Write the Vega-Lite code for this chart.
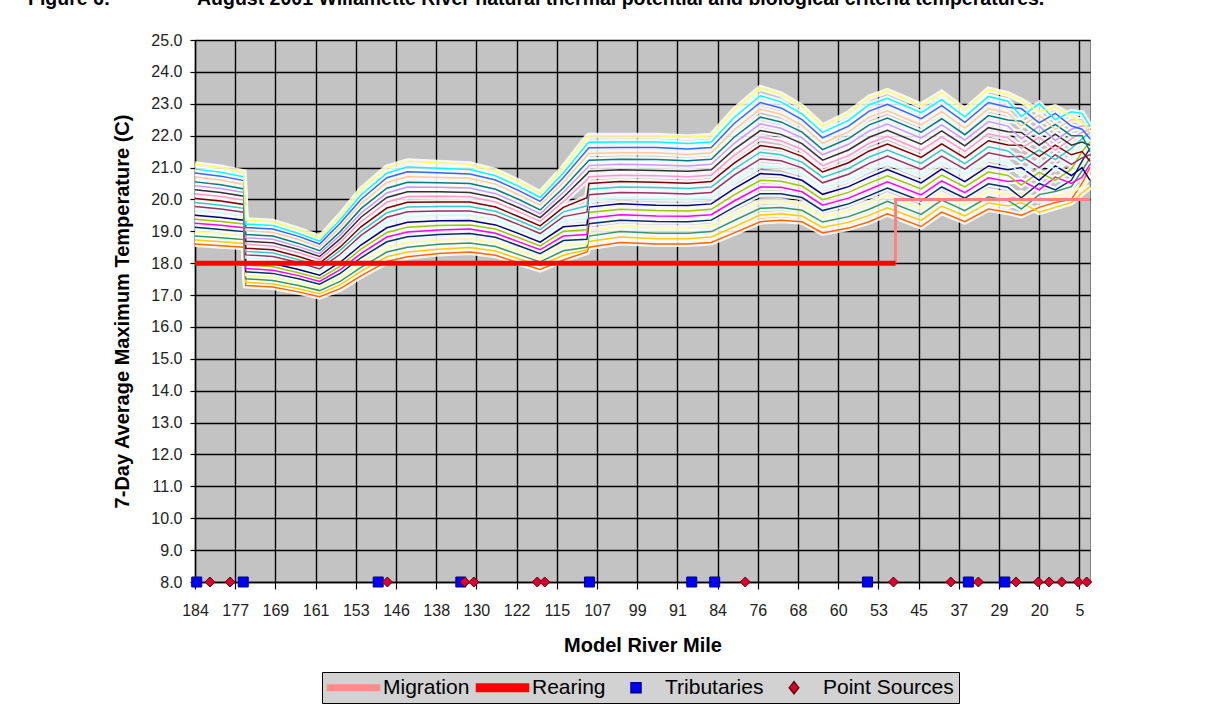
{
  "$schema": "https://vega.github.io/schema/vega-lite/v6.json",
  "width": 895,
  "height": 542,
  "autosize": {"type": "none"},
  "padding": {"left": 195, "top": 40, "right": 116, "bottom": 129},
  "background": "white",
  "title": {
    "text": "Figure 6:\u00a0\u00a0\u00a0\u00a0\u00a0\u00a0\u00a0\u00a0\u00a0\u00a0\u00a0\u00a0\u00a0\u00a0\u00a0\u00a0August 2001 Willamette River natural thermal potential and biological criteria temperatures.",
    "anchor": "start",
    "frame": "group",
    "orient": "top",
    "offset": 8,
    "baseline": "alphabetic",
    "dx": -167,
    "font": "Liberation Sans",
    "fontSize": 19.5,
    "fontWeight": "bold",
    "color": "#000000"
  },
  "config": {
    "view": {"fill": "#c3c3c3", "stroke": "#808080", "strokeWidth": 1},
    "font": "Liberation Sans",
    "axis": {
      "labelFont": "Liberation Sans",
      "labelFontSize": 16,
      "labelColor": "#222222",
      "titleFont": "Liberation Sans",
      "titleFontSize": 20,
      "titleFontWeight": "bold",
      "titleColor": "#000000",
      "gridColor": "#000000",
      "gridWidth": 1.4,
      "gridOpacity": 1,
      "domainColor": "#000000",
      "domainWidth": 1.4,
      "tickColor": "#000000",
      "tickWidth": 1.2,
      "labelFlush": false,
      "labelOverlap": false
    },
    "legend": {
      "labelFont": "Liberation Sans",
      "labelFontSize": 21,
      "labelColor": "#000000",
      "fillColor": "#d2d2d2",
      "strokeColor": "#000000",
      "padding": 5,
      "labelOffset": 35,
      "columnPadding": 3,
      "symbolSize": 100
    }
  },
  "datasets": {
    "days": [
      {"m":184,"d01":18.6,"d02":18.73,"d03":18.85,"d04":18.98,"d05":19.13,"d06":19.25,"d07":19.38,"d08":19.5,"d09":19.65,"d10":19.78,"d11":19.9,"d12":20.03,"d13":20.18,"d14":20.3,"d15":20.43,"d16":20.55,"d17":20.7,"d18":20.83,"d19":20.95,"d20":21.1},
      {"m":179.5,"d01":18.55,"d02":18.67,"d03":18.8,"d04":18.92,"d05":19.06,"d06":19.19,"d07":19.31,"d08":19.43,"d09":19.58,"d10":19.7,"d11":19.82,"d12":19.95,"d13":20.09,"d14":20.22,"d15":20.34,"d16":20.46,"d17":20.61,"d18":20.73,"d19":20.85,"d20":21.0},
      {"m":175.3,"d01":18.5,"d02":18.62,"d03":18.74,"d04":18.85,"d05":18.99,"d06":19.11,"d07":19.23,"d08":19.35,"d09":19.49,"d10":19.6,"d11":19.72,"d12":19.84,"d13":19.98,"d14":20.1,"d15":20.22,"d16":20.33,"d17":20.47,"d18":20.59,"d19":20.71,"d20":20.85},
      {"m":174.9,"d01":17.3,"d02":17.4,"d03":17.51,"d04":17.61,"d05":17.73,"d06":17.83,"d07":17.94,"d08":18.04,"d09":18.16,"d10":18.26,"d11":18.37,"d12":18.47,"d13":18.59,"d14":18.69,"d15":18.8,"d16":18.9,"d17":19.02,"d18":19.12,"d19":19.23,"d20":19.35},
      {"m":169.5,"d01":17.25,"d02":17.35,"d03":17.46,"d04":17.56,"d05":17.68,"d06":17.78,"d07":17.89,"d08":17.99,"d09":18.11,"d10":18.21,"d11":18.32,"d12":18.42,"d13":18.54,"d14":18.64,"d15":18.75,"d16":18.85,"d17":18.97,"d18":19.07,"d19":19.18,"d20":19.3},
      {"m":164.4,"d01":17.1,"d02":17.2,"d03":17.3,"d04":17.39,"d05":17.51,"d06":17.61,"d07":17.7,"d08":17.8,"d09":17.92,"d10":18.02,"d11":18.11,"d12":18.21,"d13":18.33,"d14":18.43,"d15":18.52,"d16":18.62,"d17":18.74,"d18":18.84,"d19":18.93,"d20":19.05},
      {"m":160.2,"d01":16.95,"d02":17.04,"d03":17.14,"d04":17.23,"d05":17.34,"d06":17.43,"d07":17.52,"d08":17.62,"d09":17.73,"d10":17.82,"d11":17.91,"d12":18.0,"d13":18.12,"d14":18.21,"d15":18.3,"d16":18.39,"d17":18.5,"d18":18.6,"d19":18.69,"d20":18.8},
      {"m":156.1,"d01":17.2,"d02":17.32,"d03":17.43,"d04":17.55,"d05":17.68,"d06":17.8,"d07":17.91,"d08":18.03,"d09":18.17,"d10":18.28,"d11":18.4,"d12":18.51,"d13":18.65,"d14":18.76,"d15":18.88,"d16":18.99,"d17":19.13,"d18":19.25,"d19":19.36,"d20":19.5},
      {"m":152.1,"d01":17.6,"d02":17.74,"d03":17.87,"d04":18.01,"d05":18.17,"d06":18.3,"d07":18.44,"d08":18.57,"d09":18.73,"d10":18.87,"d11":19.0,"d12":19.14,"d13":19.3,"d14":19.44,"d15":19.57,"d16":19.71,"d17":19.87,"d18":20.0,"d19":20.14,"d20":20.3},
      {"m":147.6,"d01":18.05,"d02":18.2,"d03":18.35,"d04":18.49,"d05":18.67,"d06":18.82,"d07":18.96,"d08":19.11,"d09":19.29,"d10":19.44,"d11":19.58,"d12":19.73,"d13":19.91,"d14":20.06,"d15":20.2,"d16":20.35,"d17":20.53,"d18":20.68,"d19":20.82,"d20":21.0},
      {"m":143.7,"d01":18.2,"d02":18.35,"d03":18.5,"d04":18.65,"d05":18.83,"d06":18.98,"d07":19.13,"d08":19.28,"d09":19.46,"d10":19.61,"d11":19.76,"d12":19.91,"d13":20.09,"d14":20.24,"d15":20.39,"d16":20.54,"d17":20.72,"d18":20.87,"d19":21.02,"d20":21.2},
      {"m":137.5,"d01":18.3,"d02":18.44,"d03":18.59,"d04":18.73,"d05":18.9,"d06":19.04,"d07":19.18,"d08":19.33,"d09":19.5,"d10":19.64,"d11":19.78,"d12":19.92,"d13":20.1,"d14":20.24,"d15":20.38,"d16":20.52,"d17":20.69,"d18":20.84,"d19":20.98,"d20":21.15},
      {"m":131.3,"d01":18.35,"d02":18.49,"d03":18.63,"d04":18.76,"d05":18.93,"d06":19.07,"d07":19.2,"d08":19.34,"d09":19.51,"d10":19.64,"d11":19.78,"d12":19.92,"d13":20.08,"d14":20.22,"d15":20.36,"d16":20.5,"d17":20.66,"d18":20.8,"d19":20.94,"d20":21.1},
      {"m":126.2,"d01":18.25,"d02":18.38,"d03":18.52,"d04":18.65,"d05":18.81,"d06":18.94,"d07":19.07,"d08":19.2,"d09":19.36,"d10":19.5,"d11":19.63,"d12":19.76,"d13":19.92,"d14":20.05,"d15":20.18,"d16":20.32,"d17":20.48,"d18":20.61,"d19":20.74,"d20":20.9},
      {"m":121.5,"d01":18.0,"d02":18.13,"d03":18.26,"d04":18.38,"d05":18.54,"d06":18.66,"d07":18.79,"d08":18.92,"d09":19.07,"d10":19.2,"d11":19.33,"d12":19.45,"d13":19.61,"d14":19.73,"d15":19.86,"d16":19.99,"d17":20.14,"d18":20.27,"d19":20.4,"d20":20.55},
      {"m":117.9,"d01":17.8,"d02":17.92,"d03":18.04,"d04":18.16,"d05":18.3,"d06":18.42,"d07":18.54,"d08":18.66,"d09":18.81,"d10":18.93,"d11":19.05,"d12":19.17,"d13":19.31,"d14":19.43,"d15":19.55,"d16":19.67,"d17":19.82,"d18":19.94,"d19":20.06,"d20":20.2},
      {"m":113.7,"d01":18.1,"d02":18.25,"d03":18.39,"d04":18.54,"d05":18.71,"d06":18.85,"d07":19.0,"d08":19.14,"d09":19.32,"d10":19.46,"d11":19.61,"d12":19.75,"d13":19.93,"d14":20.07,"d15":20.22,"d16":20.36,"d17":20.54,"d18":20.68,"d19":20.83,"d20":21.0},
      {"m":109.0,"d01":18.35,"d02":18.42,"d03":18.5,"d04":18.6,"d05":18.75,"d06":18.9,"d07":19.05,"d08":19.2,"d09":19.4,"d10":19.6,"d11":19.8,"d12":20.05,"d13":20.62,"d14":20.8,"d15":20.98,"d16":21.16,"d17":21.37,"d18":21.55,"d19":21.73,"d20":21.95},
      {"m":108.6,"d01":18.5,"d02":18.68,"d03":18.85,"d04":19.03,"d05":19.24,"d06":19.41,"d07":19.59,"d08":19.76,"d09":19.97,"d10":20.15,"d11":20.32,"d12":20.5,"d13":20.71,"d14":20.88,"d15":21.06,"d16":21.23,"d17":21.44,"d18":21.62,"d19":21.79,"d20":22.0},
      {"m":102.4,"d01":18.65,"d02":18.82,"d03":18.99,"d04":19.15,"d05":19.35,"d06":19.52,"d07":19.69,"d08":19.86,"d09":20.06,"d10":20.22,"d11":20.39,"d12":20.56,"d13":20.76,"d14":20.93,"d15":21.1,"d16":21.26,"d17":21.46,"d18":21.63,"d19":21.8,"d20":22.0},
      {"m":95.2,"d01":18.6,"d02":18.77,"d03":18.94,"d04":19.11,"d05":19.31,"d06":19.48,"d07":19.65,"d08":19.82,"d09":20.03,"d10":20.2,"d11":20.37,"d12":20.54,"d13":20.74,"d14":20.91,"d15":21.08,"d16":21.25,"d17":21.46,"d18":21.63,"d19":21.8,"d20":22.0},
      {"m":89.2,"d01":18.6,"d02":18.77,"d03":18.94,"d04":19.1,"d05":19.3,"d06":19.47,"d07":19.64,"d08":19.81,"d09":20.01,"d10":20.17,"d11":20.34,"d12":20.51,"d13":20.71,"d14":20.88,"d15":21.05,"d16":21.21,"d17":21.41,"d18":21.58,"d19":21.75,"d20":21.95},
      {"m":85.1,"d01":18.65,"d02":18.82,"d03":18.99,"d04":19.15,"d05":19.35,"d06":19.52,"d07":19.69,"d08":19.86,"d09":20.06,"d10":20.22,"d11":20.39,"d12":20.56,"d13":20.76,"d14":20.93,"d15":21.1,"d16":21.26,"d17":21.46,"d18":21.63,"d19":21.8,"d20":22.0},
      {"m":80.7,"d01":18.95,"d02":19.14,"d03":19.34,"d04":19.53,"d05":19.76,"d06":19.95,"d07":20.14,"d08":20.34,"d09":20.57,"d10":20.76,"d11":20.95,"d12":21.14,"d13":21.38,"d14":21.57,"d15":21.76,"d16":21.95,"d17":22.18,"d18":22.38,"d19":22.57,"d20":22.8},
      {"m":75.5,"d01":19.3,"d02":19.51,"d03":19.72,"d04":19.93,"d05":20.18,"d06":20.39,"d07":20.6,"d08":20.81,"d09":21.06,"d10":21.27,"d11":21.48,"d12":21.69,"d13":21.95,"d14":22.16,"d15":22.37,"d16":22.58,"d17":22.83,"d18":23.04,"d19":23.25,"d20":23.5},
      {"m":71.4,"d01":19.35,"d02":19.55,"d03":19.75,"d04":19.94,"d05":20.18,"d06":20.38,"d07":20.57,"d08":20.77,"d09":21.01,"d10":21.21,"d11":21.4,"d12":21.6,"d13":21.84,"d14":22.04,"d15":22.23,"d16":22.43,"d17":22.67,"d18":22.87,"d19":23.06,"d20":23.3},
      {"m":67.2,"d01":19.3,"d02":19.48,"d03":19.66,"d04":19.84,"d05":20.06,"d06":20.24,"d07":20.42,"d08":20.6,"d09":20.81,"d10":20.99,"d11":21.17,"d12":21.35,"d13":21.57,"d14":21.75,"d15":21.93,"d16":22.11,"d17":22.32,"d18":22.5,"d19":22.68,"d20":22.9},
      {"m":63.1,"d01":18.95,"d02":19.12,"d03":19.29,"d04":19.45,"d05":19.65,"d06":19.82,"d07":19.99,"d08":20.16,"d09":20.36,"d10":20.52,"d11":20.69,"d12":20.86,"d13":21.06,"d14":21.23,"d15":21.4,"d16":21.56,"d17":21.76,"d18":21.93,"d19":22.1,"d20":22.3},
      {"m":58.2,"d01":19.1,"d02":19.28,"d03":19.46,"d04":19.64,"d05":19.86,"d06":20.04,"d07":20.22,"d08":20.4,"d09":20.61,"d10":20.79,"d11":20.97,"d12":21.15,"d13":21.37,"d14":21.55,"d15":21.73,"d16":21.91,"d17":22.12,"d18":22.3,"d19":22.48,"d20":22.7},
      {"m":54.6,"d01":19.3,"d02":19.5,"d03":19.69,"d04":19.89,"d05":20.12,"d06":20.31,"d07":20.51,"d08":20.7,"d09":20.94,"d10":21.13,"d11":21.33,"d12":21.52,"d13":21.76,"d14":21.95,"d15":22.15,"d16":22.34,"d17":22.58,"d18":22.77,"d19":22.97,"d20":23.2},
      {"m":51.2,"d01":19.55,"d02":19.74,"d03":19.94,"d04":20.13,"d05":20.36,"d06":20.55,"d07":20.74,"d08":20.94,"d09":21.17,"d10":21.36,"d11":21.55,"d12":21.74,"d13":21.98,"d14":22.17,"d15":22.36,"d16":22.55,"d17":22.78,"d18":22.98,"d19":23.17,"d20":23.4},
      {"m":44.5,"d01":19.15,"d02":19.34,"d03":19.53,"d04":19.72,"d05":19.95,"d06":20.14,"d07":20.33,"d08":20.52,"d09":20.75,"d10":20.94,"d11":21.13,"d12":21.32,"d13":21.54,"d14":21.73,"d15":21.92,"d16":22.11,"d17":22.34,"d18":22.53,"d19":22.72,"d20":22.95},
      {"m":40.4,"d01":19.6,"d02":19.79,"d03":19.98,"d04":20.16,"d05":20.39,"d06":20.58,"d07":20.76,"d08":20.95,"d09":21.18,"d10":21.36,"d11":21.55,"d12":21.74,"d13":21.96,"d14":22.15,"d15":22.34,"d16":22.53,"d17":22.75,"d18":22.94,"d19":23.13,"d20":23.35},
      {"m":35.8,"d01":19.3,"d02":19.48,"d03":19.65,"d04":19.83,"d05":20.04,"d06":20.21,"d07":20.39,"d08":20.56,"d09":20.77,"d10":20.95,"d11":21.12,"d12":21.3,"d13":21.51,"d14":21.68,"d15":21.86,"d16":22.03,"d17":22.24,"d18":22.42,"d19":22.59,"d20":22.8},
      {"m":31.1,"d01":19.7,"d02":19.89,"d03":20.08,"d04":20.26,"d05":20.49,"d06":20.68,"d07":20.86,"d08":21.05,"d09":21.28,"d10":21.46,"d11":21.65,"d12":21.84,"d13":22.06,"d14":22.25,"d15":22.44,"d16":22.63,"d17":22.85,"d18":23.04,"d19":23.23,"d20":23.45},
      {"m":27,"d01":19.6,"d02":19.79,"d03":19.97,"d04":20.16,"d05":20.38,"d06":20.56,"d07":20.75,"d08":20.93,"d09":21.15,"d10":21.34,"d11":21.52,"d12":21.71,"d13":21.93,"d14":22.12,"d15":22.3,"d16":22.49,"d17":22.71,"d18":22.89,"d19":23.08,"d20":23.3},
      {"m":24,"d01":19.5,"d02":19.9,"d03":19.7,"d04":20.2,"d05":20.05,"d06":20.6,"d07":20.45,"d08":21.0,"d09":20.8,"d10":21.35,"d11":21.2,"d12":21.7,"d13":21.6,"d14":22.1,"d15":21.9,"d16":22.45,"d17":22.3,"d18":22.85,"d19":22.6,"d20":23.1},
      {"m":20,"d01":19.75,"d02":19.6,"d03":20.15,"d04":19.95,"d05":20.5,"d06":20.3,"d07":20.85,"d08":20.6,"d09":21.2,"d10":21.0,"d11":21.55,"d12":21.35,"d13":21.95,"d14":21.7,"d15":22.3,"d16":22.05,"d17":22.65,"d18":22.4,"d19":23.0,"d20":22.75},
      {"m":14,"d01":19.9,"d02":19.75,"d03":20.25,"d04":20.1,"d05":20.3,"d06":20.7,"d07":20.6,"d08":21.05,"d09":20.95,"d10":21.4,"d11":21.25,"d12":21.7,"d13":21.55,"d14":22.05,"d15":21.85,"d16":22.35,"d17":22.2,"d18":22.7,"d19":22.5,"d20":22.9},
      {"m":8,"d01":20.0,"d02":19.9,"d03":20.4,"d04":20.2,"d05":20.6,"d06":20.5,"d07":20.95,"d08":20.75,"d09":21.3,"d10":21.1,"d11":21.6,"d12":21.4,"d13":21.9,"d14":21.7,"d15":22.2,"d16":22.0,"d17":22.5,"d18":22.3,"d19":22.75,"d20":22.6},
      {"m":4,"d01":20.5,"d02":20.2,"d03":20.9,"d04":20.4,"d05":21.2,"d06":20.7,"d07":21.5,"d08":21.0,"d09":21.7,"d10":21.3,"d11":21.9,"d12":21.5,"d13":22.1,"d14":21.8,"d15":22.3,"d16":22.0,"d17":22.5,"d18":22.2,"d19":22.7,"d20":22.4},
      {"m":1,"d01":21.0,"d02":20.4,"d03":21.3,"d04":20.8,"d05":21.6,"d06":21.1,"d07":21.8,"d08":20.6,"d09":21.9,"d10":21.4,"d11":22.1,"d12":21.2,"d13":22.2,"d14":21.7,"d15":22.3,"d16":21.5,"d17":22.0,"d18":21.9,"d19":22.3,"d20":22.2}
    ],
    "crit": [
      {"s":"Rearing","m":184,"t":18,"o":1},
      {"s":"Rearing","m":49.6,"t":18,"o":2},
      {"s":"Migration","m":49.6,"t":18,"o":1},
      {"s":"Migration","m":49.6,"t":20,"o":2},
      {"s":"Migration","m":1,"t":20,"o":3}
    ],
    "marks": [
      {"s":"Tributaries","m":183.7,"t":8},
      {"s":"Tributaries","m":175.4,"t":8},
      {"s":"Tributaries","m":149.1,"t":8},
      {"s":"Tributaries","m":133.1,"t":8},
      {"s":"Tributaries","m":108.5,"t":8},
      {"s":"Tributaries","m":88.5,"t":8},
      {"s":"Tributaries","m":84.5,"t":8},
      {"s":"Tributaries","m":54.9,"t":8},
      {"s":"Tributaries","m":35.1,"t":8},
      {"s":"Tributaries","m":27.7,"t":8},
      {"s":"Point Sources","m":181.4,"t":8},
      {"s":"Point Sources","m":177.9,"t":8},
      {"s":"Point Sources","m":147.5,"t":8},
      {"s":"Point Sources","m":132.3,"t":8},
      {"s":"Point Sources","m":130.5,"t":8},
      {"s":"Point Sources","m":118.4,"t":8},
      {"s":"Point Sources","m":117.1,"t":8},
      {"s":"Point Sources","m":78.5,"t":8},
      {"s":"Point Sources","m":50.0,"t":8},
      {"s":"Point Sources","m":38.6,"t":8},
      {"s":"Point Sources","m":33.1,"t":8},
      {"s":"Point Sources","m":25.2,"t":8},
      {"s":"Point Sources","m":20.2,"t":8},
      {"s":"Point Sources","m":16.3,"t":8},
      {"s":"Point Sources","m":11.6,"t":8},
      {"s":"Point Sources","m":5.4,"t":8},
      {"s":"Point Sources","m":2.25,"t":8}
    ]
  },
  "encoding": {
    "x": {
      "field": "m",
      "type": "quantitative",
      "scale": {
        "domain": [184,177,169,161,153,146,138,130,122,115,107,99,91,84,76,68,60,53,45,37,29,20,5,1],
        "range": [0,40.2,80.4,120.6,160.8,201,241.2,281.4,321.6,361.8,402,442.2,482.4,522.6,562.8,603,643.2,683.4,723.6,763.8,804,844.2,884.4,895],
        "nice": false,
        "zero": false
      },
      "axis": {
        "title": "Model River Mile",
        "values": [184,177,169,161,153,146,138,130,122,115,107,99,91,84,76,68,60,53,45,37,29,20,5],
        "format": "d",
        "tickSize": 7,
        "labelPadding": 13,
        "titlePadding": 17
      }
    },
    "y": {
      "field": "t",
      "type": "quantitative",
      "scale": {"domain": [8, 25], "nice": false, "zero": false},
      "axis": {
        "title": "7-Day Average Maximum Temperature (C)",
        "values": [8,9,10,11,12,13,14,15,16,17,18,19,20,21,22,23,24,25],
        "format": ".1f",
        "tickSize": 5,
        "labelPadding": 8,
        "titlePadding": 18
      }
    }
  },
  "layer": [
    {
      "data": {"name": "days"},
      "transform": [{"fold": ["d01","d02","d03","d04","d05","d06","d07","d08","d09","d10","d11","d12","d13","d14","d15","d16","d17","d18","d19","d20"], "as": ["day", "t"]}],
      "mark": {"type": "line", "stroke": "#ffffff", "strokeWidth": 6, "opacity": 0.85},
      "encoding": {"detail": {"field": "day", "type": "nominal"}}
    },
    {
      "data": {"name": "days"},
      "transform": [{"fold": ["d01","d02","d03","d04","d05","d06","d07","d08","d09","d10","d11","d12","d13","d14","d15","d16","d17","d18","d19","d20"], "as": ["day", "t"]}],
      "mark": {"type": "line", "strokeWidth": 1.5},
      "encoding": {
        "color": {
          "field": "day",
          "type": "nominal",
          "legend": null,
          "scale": {
            "domain": ["d01","d02","d03","d04","d05","d06","d07","d08","d09","d10","d11","d12","d13","d14","d15","d16","d17","d18","d19","d20"],
            "range": ["#FF6600","#FFCC00","#339966","#FFFF99","#003366","#FF00FF","#99CC00","#000080","#CCFFFF","#993366","#33CCCC","#800000","#FF99CC","#333333","#CC99FF","#008080","#FFCC99","#3366FF","#00FFFF","#FFFF66"]
          }
        }
      }
    },
    {
      "data": {"name": "marks"},
      "transform": [{"filter": "datum.s === 'Tributaries'"}],
      "mark": {"type": "point", "shape": "square", "filled": true, "fill": "#0000ff", "stroke": "#000080", "strokeWidth": 1, "size": 100, "opacity": 1}
    },
    {
      "data": {"name": "marks"},
      "transform": [{"filter": "datum.s === 'Point Sources'"}],
      "mark": {"type": "point", "shape": "diamond", "filled": true, "fill": "#dd0033", "stroke": "#660000", "strokeWidth": 1, "size": 100, "opacity": 1}
    },
    {
      "data": {"name": "marks"},
      "transform": [{"filter": "datum.s === 'none'"}],
      "mark": {"type": "point", "filled": true, "opacity": 1, "strokeWidth": 1},
      "encoding": {
        "fill": {
          "field": "s", "type": "nominal",
          "scale": {"domain": ["Migration","Rearing","Tributaries","Point Sources"], "range": ["#ff8a8a","#ff0000","#0000ff","#dd0033"]},
          "legend": null
        },
        "stroke": {
          "field": "s", "type": "nominal",
          "scale": {"domain": ["Migration","Rearing","Tributaries","Point Sources"], "range": ["#ff8a8a","#ff0000","#000080","#660000"]},
          "legend": null
        },
        "shape": {
          "field": "s", "type": "nominal",
          "scale": {
            "domain": ["Migration","Rearing","Tributaries","Point Sources"],
            "range": ["M-2,-0.55H8.4V0.55H-2Z","M-2,-0.75H8.4V0.75H-2Z","M2.3,-1H4.3V1H2.3Z","M2.35,0L3.3,-1.2L4.25,0L3.3,1.2Z"]
          },
          "legend": {
            "title": null,
            "orient": "none",
            "legendX": 127,
            "legendY": 632,
            "direction": "horizontal",
            "columns": 4
          }
        }
      }
    },
    {
      "data": {"name": "crit"},
      "transform": [{"filter": "datum.s === 'Migration'"}],
      "mark": {"type": "line", "stroke": "#ff8080", "strokeWidth": 3},
      "encoding": {
        "order": {"field": "o", "type": "quantitative"}
      }
    },
    {
      "data": {"name": "crit"},
      "transform": [{"filter": "datum.s === 'Rearing'"}],
      "mark": {"type": "line", "stroke": "#ff0000", "strokeWidth": 5},
      "encoding": {
        "order": {"field": "o", "type": "quantitative"}
      }
    }
  ]
}
